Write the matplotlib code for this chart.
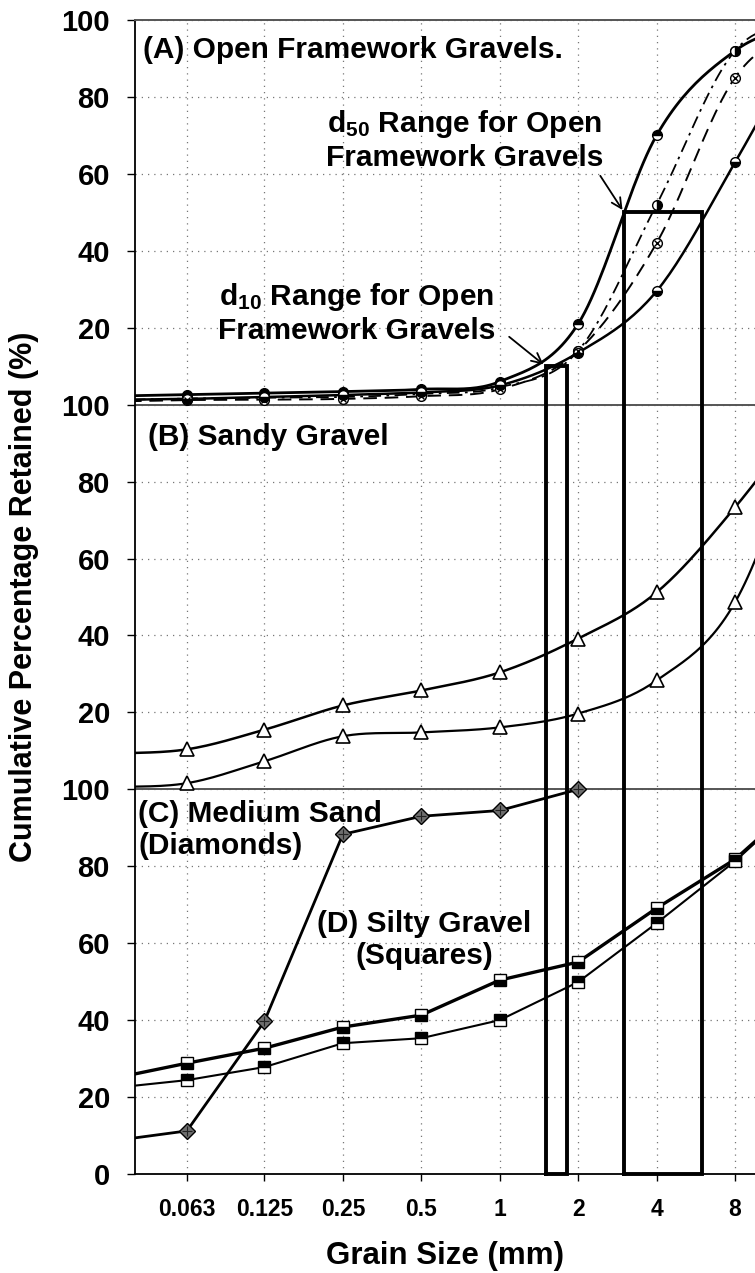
import numpy as np
import matplotlib.pyplot as plt
from matplotlib.ticker import NullLocator

plt.rcParams['font.family'] = ['Liberation Sans', 'DejaVu Sans']

# grain sizes (mm); first and last lie outside the visible axis range
sizes = [0.031, 0.063, 0.125, 0.25, 0.5, 1, 2, 4, 8, 16]
tick_sizes = [0.063, 0.125, 0.25, 0.5, 1, 2, 4, 8]
tick_labels = ['0.063', '0.125', '0.25', '0.5', '1', '2', '4', '8']

# (A) open framework gravels, cumulative % retained
ofg_1 = [2.2, 2.6, 3.0, 3.4, 4.0, 6.0, 21, 70, 92, 100]    # solid, upper
ofg_2 = [1.2, 1.6, 1.8, 2.0, 2.8, 4.5, 14, 52, 92, 100]    # dash-dot
ofg_3 = [0.8, 1.2, 1.3, 1.5, 2.2, 4.0, 14, 42, 85, 100]    # dashed
ofg_4 = [1.2, 1.5, 2.0, 2.5, 3.2, 5.0, 13.5, 29.5, 63, 100]  # solid, lower

# (B) sandy gravel (triangles)
sg_1 = [9.2, 10.4, 15.5, 21.8, 25.7, 30.4, 39.2, 51.2, 73.3, 100]
sg_2 = [0.5, 1.6, 7.3, 13.8, 14.8, 16.1, 19.7, 28.3, 48.6, 100]

# (C) medium sand (diamonds), ends at 2 mm
ms_sizes = [0.031, 0.063, 0.125, 0.25, 0.5, 1, 2]
ms = [8.4, 11.2, 39.7, 88.3, 93.0, 94.5, 100]

# (D) silty gravel (squares)
sq_1 = [24.5, 28.8, 32.7, 38.2, 41.3, 50.4, 55.1, 69.1, 81.8, 100]
sq_2 = [22.2, 24.4, 27.8, 34.0, 35.3, 40.0, 49.9, 65.2, 81.3, 100]

# d10 / d50 ranges (mm) and the percentage they refer to
d10_range = [1.5, 1.82]
d50_range = [3.0, 6.0]
d10_pct = 10
d50_pct = 50

panel_ticks = [20, 40, 60, 80, 100]
y_labels = ['0'] + [str(v) for v in panel_ticks] * 3


def smooth(xs, ys, n=24):
    # Catmull-Rom curve through the points, in log2(x) space
    px = np.log2(np.asarray(xs, float))
    py = np.asarray(ys, float)
    px = np.r_[2 * px[0] - px[1], px, 2 * px[-1] - px[-2]]
    py = np.r_[2 * py[0] - py[1], py, 2 * py[-1] - py[-2]]
    t = np.linspace(0, 1, n, endpoint=False)
    ox, oy = [], []
    for i in range(1, len(px) - 2):
        for arr, out in ((px, ox), (py, oy)):
            p0, p1, p2, p3 = arr[i - 1:i + 3]
            out.extend(0.5 * (2 * p1 + (-p0 + p2) * t
                              + (2 * p0 - 5 * p1 + 4 * p2 - p3) * t ** 2
                              + (-p0 + 3 * p1 - 3 * p2 + p3) * t ** 3))
    ox.append(px[-2])
    oy.append(py[-2])
    return 2 ** np.array(ox), np.array(oy)


fig = plt.figure(figsize=(7.55, 12.73), dpi=100)
ax = fig.add_axes([135 / 755, 1 - 1174 / 1273, 620 / 755, 1154 / 1273])

offA, offB, offC = 200, 100, 0

# panel A curves
ms_a = 7
for ys, ls, lw, fs in [(ofg_1, '-', 2.0, 'top'), (ofg_2, (0, (7, 3, 1.5, 3)), 1.3, 'right'),
                       (ofg_3, (0, (7, 4)), 1.4, 'none'), (ofg_4, '-', 1.8, 'bottom')]:
    sx, sy = smooth(sizes, ys)
    ax.plot(sx, sy + offA, color='black', ls=ls, lw=lw, zorder=3)
    yv = np.array(ys) + offA
    if fs == 'none':
        ax.plot(sizes, yv, 'o', ms=ms_a, mfc='white', mec='black', mew=1.0, zorder=4)
        ax.plot(sizes, yv, 'x', ms=ms_a * 0.6, mec='black', mew=1.0, zorder=5)
    else:
        ax.plot(sizes, yv, 'o', ms=ms_a, fillstyle=fs, mfc='black', mfcalt='white',
                mec='black', mew=1.0, zorder=4)

# panel B curves
for ys, lw in [(sg_1, 1.8), (sg_2, 1.6)]:
    sx, sy = smooth(sizes, ys)
    ax.plot(sx, sy + offB, color='black', lw=lw, zorder=3)
    ax.plot(sizes, np.array(ys) + offB, '^', ms=9.5, mfc='white', mec='black', mew=1.2, zorder=4)

# panel C / D curves
ax.plot(ms_sizes, np.array(ms) + offC, color='black', lw=2.0, zorder=3)
ax.plot(ms_sizes, np.array(ms) + offC, 'D', ms=8.5, mfc='#6e6e6e', mec='black', mew=1.0, zorder=4)
ax.plot(ms_sizes, np.array(ms) + offC, '+', ms=7.5, mec='#222222', mew=0.8, zorder=5)

ax.plot(sizes, np.array(sq_1) + offC, color='black', lw=2.4, zorder=3)
ax.plot(sizes, np.array(sq_1) + offC, 's', ms=9, fillstyle='bottom', mfc='black',
        mfcalt='white', mec='black', mew=1.0, zorder=4)
ax.plot(sizes, np.array(sq_2) + offC, color='black', lw=1.5, zorder=3)
ax.plot(sizes, np.array(sq_2) + offC, 's', ms=9, fillstyle='top', mfc='black',
        mfcalt='white', mec='black', mew=1.0, zorder=4)

# d10 / d50 boxes
for rng, pct in [(d10_range, d10_pct), (d50_range, d50_pct)]:
    x0, x1 = rng
    h = pct + offA
    ax.plot([x0, x0, x1, x1, x0], [0, h, h, 0, 0], color='black', lw=2.8,
            zorder=6, clip_on=False, solid_joinstyle='miter')

# panel separators
for y in (100, 200):
    ax.axhline(y, color='#555555', lw=1.4, zorder=2)

ax.set_xscale('log', base=2)
ax.set_xlim(2 ** -4.65, 2 ** 3.255)
ax.set_ylim(0, 300)
ax.set_xticks(tick_sizes)
ax.set_xticklabels(tick_labels)
ax.xaxis.set_minor_locator(NullLocator())
ax.set_yticks(np.arange(0, 301, 20))
ax.set_yticklabels(y_labels)

ax.grid(True, color='#777777', lw=0.9, ls=(0, (1, 4)), zorder=0)
ax.tick_params(axis='y', labelsize=21, length=6, width=1.0, pad=12)
ax.tick_params(axis='x', labelsize=16.5, length=5, width=1.0, pad=12)
for lab in ax.get_xticklabels() + ax.get_yticklabels():
    lab.set_fontweight('bold')

ax.spines['right'].set_visible(False)
ax.spines['top'].set_color('#555555')
ax.spines['top'].set_linewidth(1.4)
ax.spines['left'].set_linewidth(1.3)
ax.spines['bottom'].set_linewidth(1.3)

ax.set_xlabel('Grain Size (mm)', fontsize=22.5, fontweight='bold', labelpad=15)
fig.text(24 / 755, 1 - 597 / 1273, 'Cumulative Percentage Retained (%)', rotation=90,
         fontsize=22, fontweight='bold', ha='center', va='center')

# panel annotations
tk = dict(fontsize=21.5, fontweight='bold', transform=ax.transAxes, zorder=7)
ax.text(0.013, 0.974, '(A) Open Framework Gravels.', ha='left', va='center', **tk)
ax.text(0.021, 0.639, '(B) Sandy Gravel', ha='left', va='center', **tk)
ax.text(0.005, 0.298, '(C) Medium Sand\n(Diamonds)', ha='left', va='center',
        linespacing=1.15, **tk)
ax.text(0.466, 0.203, '(D) Silty Gravel\n(Squares)', ha='center', va='center',
        multialignment='center', linespacing=1.2, **tk)
ax.text(0.532, 0.896, 'd$\\mathregular{_{50}}$ Range for Open\nFramework Gravels',
        ha='center', va='center', multialignment='center', linespacing=1.15, **tk)
ax.text(0.358, 0.746, 'd$\\mathregular{_{10}}$ Range for Open\nFramework Gravels',
        ha='center', va='center', multialignment='center', linespacing=1.15, **tk)

arrow = dict(arrowstyle='->', color='black', lw=1.3, mutation_scale=18)
ax.annotate('', xy=(d50_range[0], d50_pct + offA), xytext=(0.748, 0.867),
            textcoords='axes fraction', arrowprops=arrow, zorder=7)
ax.annotate('', xy=(d10_range[0], d10_pct + offA), xytext=(0.600, 0.727),
            textcoords='axes fraction', arrowprops=arrow, zorder=7)

fig.savefig('out.png', dpi=100)
